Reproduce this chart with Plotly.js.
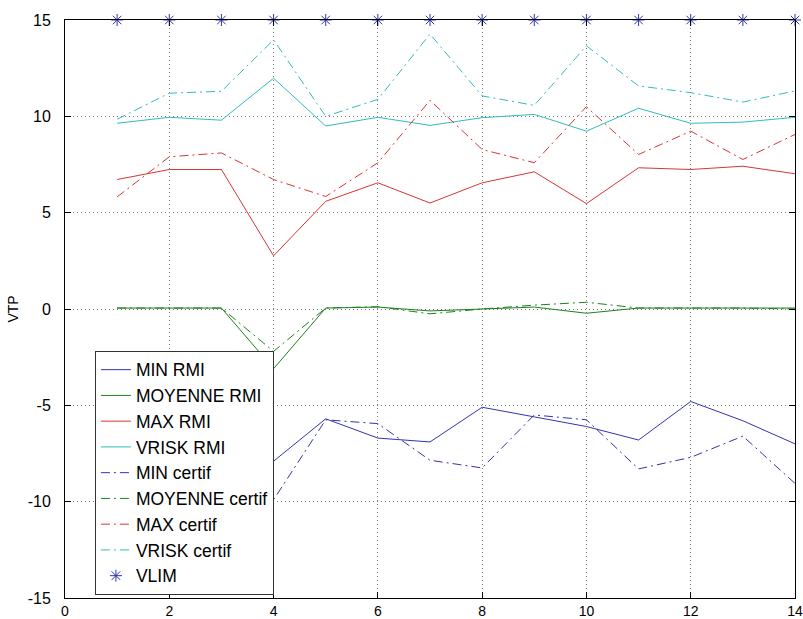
<!DOCTYPE html>
<html>
<head>
<meta charset="utf-8">
<script src="https://cdn.plot.ly/plotly-3.0.1.min.js"></script>
<style>
  html, body { margin: 0; padding: 0; background: #fff; }
  #chart { width: 803px; height: 619px; }
</style>
</head>
<body>
<div id="chart"></div>
<script>
// ---- data ----
const xVals = [1, 2, 3, 4, 5, 6, 7, 8, 9, 10, 11, 12, 13, 14];

const minRMI      = [-6.6, -6.9, -7.1, -7.9, -5.7, -6.7, -6.9, -5.1, -5.6, -6.1, -6.8, -4.8, -5.8, -7.0];
const moyenneRMI  = [0.05, 0.05, 0.05, -3.1, 0.05, 0.1, -0.1, 0.0, 0.1, -0.22, 0.05, 0.05, 0.05, 0.05];
const maxRMI      = [6.72, 7.24, 7.24, 2.76, 5.59, 6.55, 5.5, 6.55, 7.12, 5.47, 7.33, 7.24, 7.41, 7.02];
const vriskRMI    = [9.64, 9.95, 9.8, 11.98, 9.5, 9.95, 9.53, 9.93, 10.1, 9.23, 10.42, 9.64, 9.7, 9.95];

const minCertif     = [-7.5, -8.0, -8.5, -9.9, -5.75, -5.95, -7.85, -8.25, -5.5, -5.75, -8.3, -7.7, -6.6, -9.05];
const moyenneCertif = [0.05, 0.05, 0.05, -2.2, 0.05, 0.12, -0.25, 0.0, 0.2, 0.35, 0.05, 0.05, 0.05, 0.0];
const maxCertif     = [5.82, 7.9, 8.1, 6.72, 5.84, 7.59, 10.83, 8.28, 7.59, 10.5, 8.02, 9.23, 7.76, 9.06];
const vriskCertif   = [9.85, 11.2, 11.3, 13.97, 10.0, 10.88, 14.27, 11.06, 10.57, 13.66, 11.58, 11.23, 10.74, 11.32];

const vlim = [15, 15, 15, 15, 15, 15, 15, 15, 15, 15, 15, 15, 15, 15];

const seriesNames = ["MIN RMI", "MOYENNE RMI", "MAX RMI", "VRISK RMI",
                     "MIN certif", "MOYENNE certif", "MAX certif", "VRISK certif", "VLIM"];

const xTickVals = [0, 2, 4, 6, 8, 10, 12, 14];
const xTickLabels = ["0", "2", "4", "6", "8", "10", "12", "14"];
const yTickVals = [-15, -10, -5, 0, 5, 10, 15];
const yTickLabels = ["-15", "-10", "-5", "0", "5", "10", "15"];
const yTitle = "VTP";

// ---- styling ----
const BLUE = "#3333b0", GREEN = "#1f801f", RED = "#d83535", CYAN = "#30bcbc";
const DASHDOT = "9px,4px,2px,4px";
const FONT = "Liberation Sans, Arial, Helvetica, sans-serif";

function line(y, name, color, dash) {
  return {
    x: xVals, y: y, name: name, type: "scatter", mode: "lines",
    line: { color: color, width: 1, dash: dash || "solid" }
  };
}

const traces = [
  line(minRMI, seriesNames[0], BLUE),
  line(moyenneRMI, seriesNames[1], GREEN),
  line(maxRMI, seriesNames[2], RED),
  line(vriskRMI, seriesNames[3], CYAN),
  line(minCertif, seriesNames[4], BLUE, DASHDOT),
  line(moyenneCertif, seriesNames[5], GREEN, DASHDOT),
  line(maxCertif, seriesNames[6], RED, DASHDOT),
  line(vriskCertif, seriesNames[7], CYAN, DASHDOT),
  {
    x: xVals, y: vlim, name: seriesNames[8], type: "scatter", mode: "markers",
    marker: { symbol: "asterisk-open", size: 10, color: BLUE, line: { color: BLUE, width: 1 } },
    cliponaxis: false
  }
];

const axisCommon = {
  showline: true, linecolor: "#000", linewidth: 1, mirror: "ticks",
  ticks: "inside", ticklen: 6, tickcolor: "#000", tickwidth: 1,
  showgrid: true, gridcolor: "#777", griddash: "1px,3px", gridwidth: 1,
  zeroline: false, ticklabeloverflow: "allow"
};

const layout = {
  width: 803, height: 619,
  margin: { l: 65, r: 8, t: 20, b: 21 },
  paper_bgcolor: "#fff", plot_bgcolor: "#fff",
  showlegend: true,
  xaxis: Object.assign({}, axisCommon, {
    range: [0, 14], tickmode: "array", tickvals: xTickVals, ticktext: xTickLabels,
    ticklabelstandoff: 0,
    tickfont: { family: FONT, size: 14, color: "#000" }
  }),
  yaxis: Object.assign({}, axisCommon, {
    range: [-15, 15], tickmode: "array", tickvals: yTickVals, ticktext: yTickLabels,
    ticklabelstandoff: 10,
    tickfont: { family: FONT, size: 16, color: "#000" },
    title: { text: yTitle, font: { family: FONT, size: 14, color: "#000" }, standoff: 5 }
  }),
  legend: {
    x: 0.041, y: 0.4277, xanchor: "left", yanchor: "top",
    bgcolor: "#fff", bordercolor: "#333", borderwidth: 1,
    font: { family: FONT, size: 17.5, color: "#000" },
    traceorder: "normal", itemwidth: 30
  }
};

Plotly.newPlot("chart", traces, layout, { staticPlot: true, displayModeBar: false });
</script>
</body>
</html>
